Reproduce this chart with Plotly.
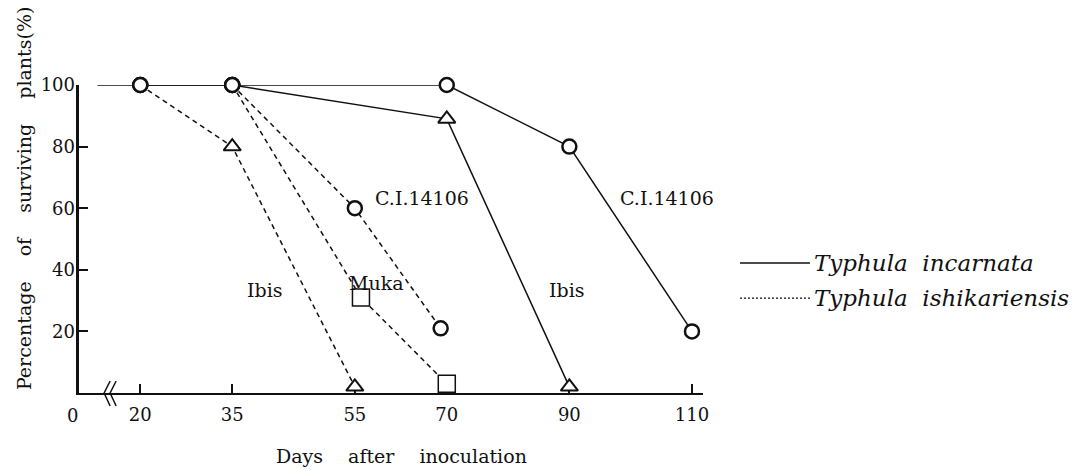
import plotly.graph_objects as go

# Days after inoculation / percentage of surviving plants
inc_ci_days = [20, 35, 70, 90, 110]
inc_ci_pct = [100, 100, 100, 80, 20]

inc_ibis_days = [20, 35, 70, 90]
inc_ibis_pct = [100, 100, 89, 2]

ish_ibis_days = [20, 35, 55]
ish_ibis_pct = [100, 80, 2]

ish_ci_days = [35, 55, 69]
ish_ci_pct = [100, 60, 21]

ish_muka_days = [35, 56, 70]
ish_muka_pct = [100, 31, 3]

# short solid lead-in before the first observation
lead_days = [13, 20]
lead_pct = [100, 100]

x_ticks = [20, 35, 55, 70, 90, 110]
y_ticks = [20, 40, 60, 80, 100]

SERIF = "DejaVu Serif"
BLACK = "#111111"
DASH = "5px,4px"
GAP = "\u2003 "

series = [
    (inc_ci_days, inc_ci_pct, "solid", ["circle"] * 5),
    (inc_ibis_days, inc_ibis_pct, "solid", ["circle", "circle", "triangle-up", "triangle-up"]),
    (ish_ibis_days, ish_ibis_pct, DASH, ["circle", "triangle-up", "triangle-up"]),
    (ish_ci_days, ish_ci_pct, DASH, ["circle"] * 3),
    (ish_muka_days, ish_muka_pct, DASH, ["circle", "square", "square"]),
]

fig = go.Figure()

fig.add_trace(go.Scatter(x=lead_days, y=lead_pct, mode="lines",
                         line=dict(color=BLACK, width=1.5), cliponaxis=False,
                         showlegend=False, hoverinfo="skip"))

# lines first so every open marker sits on top of all connectors
for xs, ys, dash, _ in series:
    fig.add_trace(go.Scatter(x=xs, y=ys, mode="lines",
                             line=dict(color=BLACK, width=1.5, dash=dash),
                             cliponaxis=False, showlegend=False))

size_of = {"circle": 14, "triangle-up": 15, "square": 17}
width_of = {"circle": 2.5, "triangle-up": 2, "square": 1.5}
for xs, ys, _, syms in series:
    fig.add_trace(go.Scatter(
        x=xs, y=ys, mode="markers", cliponaxis=False, showlegend=False,
        marker=dict(symbol=syms, size=[size_of[s] for s in syms], color="white",
                    opacity=1,
                    line=dict(color=BLACK, width=[width_of[s] for s in syms]))))

# invisible companion trace so the label axis y2 is laid out
fig.add_trace(go.Scatter(x=[None], y=[None], yaxis="y2", mode="markers",
                         showlegend=False, hoverinfo="skip"))

# curve labels
labels = [
    (57.9, 63.3, "C.I.14106", "left"),
    (97.9, 63.3, "C.I.14106", "left"),
    (40.4, 33.4, "Ibis", "center"),
    (58.6, 35.7, "Muka", "center"),
    (89.6, 33.4, "Ibis", "center"),
]
for x, y, t, anc in labels:
    fig.add_annotation(x=x, y=y, text=t, showarrow=False, xanchor=anc,
                       font=dict(family=SERIF, size=19, color=BLACK))

# axis break mark on the x axis
for off in (0, 6):
    fig.add_shape(type="path", xref="x", yref="paper", xsizemode="pixel", ysizemode="pixel",
                  xanchor=14.1, yanchor=0,
                  path=f"M {6 + off},12 L {off},0 L {6 + off},-13",
                  line=dict(color=BLACK, width=1.5))

# "0" origin label to the left of the break
fig.add_annotation(xref="paper", yref="paper", x=-0.0112, y=-0.074, text="0",
                   showarrow=False, xanchor="center", yanchor="middle",
                   font=dict(family=SERIF, size=18, color=BLACK))

# axis titles
fig.add_annotation(xref="paper", yref="paper", x=-0.088, y=0.633,
                   text=f"Percentage{GAP}of{GAP}surviving{GAP}plants(%)",
                   textangle=-90, showarrow=False, xanchor="center", yanchor="middle",
                   font=dict(family=SERIF, size=19, color=BLACK))
fig.add_annotation(xref="paper", yref="paper", x=0.5176, y=-0.2045,
                   text=f"Days{GAP}after{GAP}inoculation",
                   showarrow=False, xanchor="center", yanchor="middle",
                   font=dict(family=SERIF, size=19, color=BLACK))

# key
key = [("solid", "Typhula\u00a0 incarnata", 0.422),
       ("2px,2px", "Typhula\u00a0 ishikariensis", 0.308)]
for dash, name, yp in key:
    fig.add_shape(type="line", xref="paper", yref="paper", x0=1.0593, x1=1.1715, y0=yp, y1=yp,
                  line=dict(color=BLACK, width=1.3, dash=dash))
    fig.add_annotation(xref="paper", yref="paper", x=1.174, y=yp, text=f"<i>{name}</i>",
                       showarrow=False, xanchor="left", yanchor="middle",
                       font=dict(family=SERIF, size=23, color=BLACK))

fig.update_layout(
    width=1074, height=471,
    margin=dict(l=79, r=371, t=85, b=78),
    plot_bgcolor="white", paper_bgcolor="white",
    font=dict(family=SERIF, size=18, color=BLACK),
    xaxis=dict(range=[10, 111.8], tickvals=x_ticks, ticktext=[str(v) for v in x_ticks],
               ticks="inside", ticklen=9, tickwidth=1.5, tickcolor=BLACK,
               showline=True, linecolor=BLACK, linewidth=2, showgrid=False, zeroline=False,
               ticklabelstandoff=4, layer="below traces"),
    # y axis: line and inward ticks
    yaxis=dict(range=[0, 100], tickvals=y_ticks, showticklabels=False,
               ticks="inside", ticklen=9, tickwidth=1.5, tickcolor=BLACK,
               showline=True, linecolor=BLACK, linewidth=2.5, showgrid=False, zeroline=False,
               layer="below traces"),
    # y tick labels set snug against the axis line
    yaxis2=dict(range=[0, 100], tickvals=y_ticks, ticktext=[str(v) for v in y_ticks],
                overlaying="y", anchor="free", side="left", position=0,
                ticklabelstandoff=4,
                ticks="", showline=False, showgrid=False, zeroline=False),
)

fig.write_html("out.html")
